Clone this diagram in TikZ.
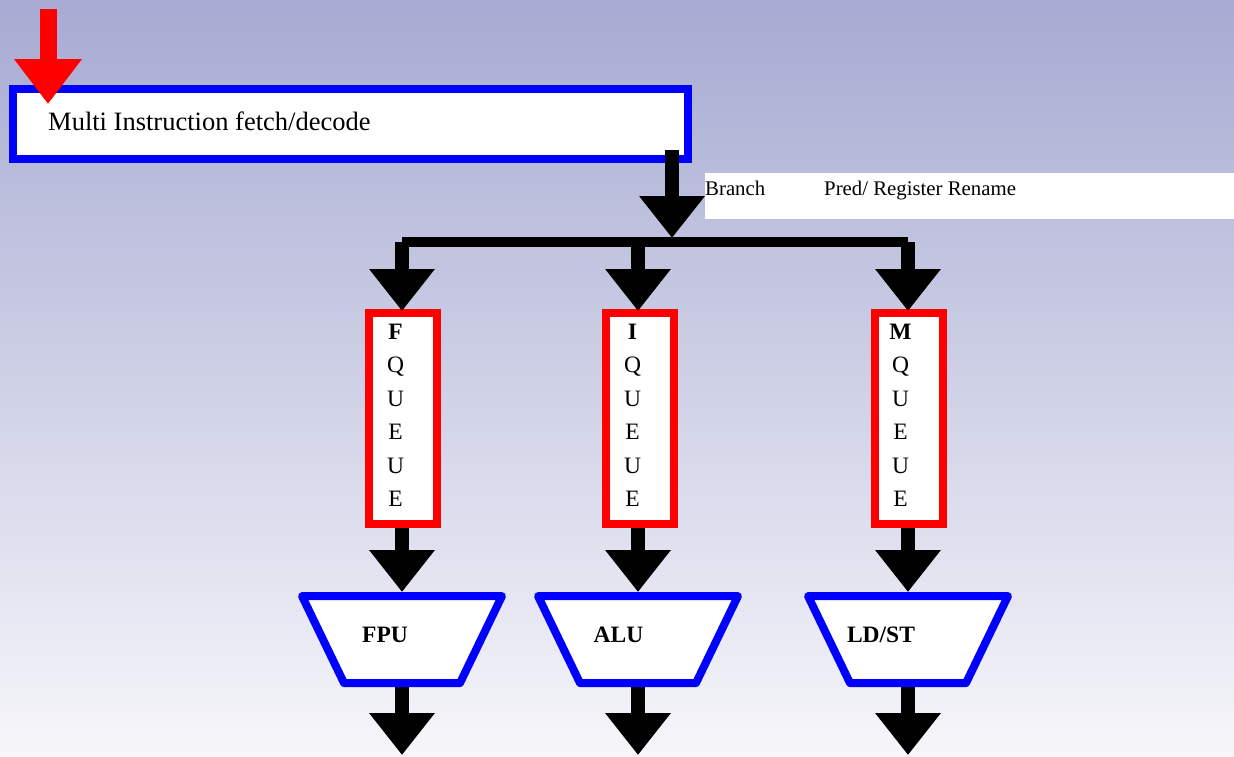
\documentclass[tikz,border=0pt]{standalone}
\usepackage{fontspec}
\setmainfont{Liberation Serif}
\usetikzlibrary{arrows.meta}

\definecolor{bgtop}{RGB}{167,170,210}
\definecolor{bgmid}{RGB}{209,210,232}
\definecolor{bgbot}{RGB}{246,246,250}
\definecolor{pureblue}{RGB}{0,0,255}
\definecolor{purered}{RGB}{255,0,0}

\tikzset{
  flow/.style={draw=black, line width=14pt, -{Triangle[width=63pt,length=42pt]}},
  feed/.style={draw=purered, line width=17pt, -{Triangle[width=65pt,length=45pt]}},
  bus/.style={draw=black, line width=10pt},
  fetchbox/.style={draw=pureblue, fill=white, line width=8pt, minimum width=675pt, minimum height=70pt, inner sep=0pt},
  queuebox/.style={draw=purered, fill=white, line width=8pt, minimum width=68pt, minimum height=211pt, inner sep=0pt},
  unitshape/.style={draw=pureblue, fill=white, line width=8pt, line join=round},
  labelband/.style={fill=white, minimum width=529pt, minimum height=46pt, inner sep=0pt},
  bigtext/.style={inner sep=0pt, font=\fontsize{26.5}{30}\selectfont},
  smalltext/.style={inner sep=0pt, anchor=base west, font=\fontsize{20.8}{24}\selectfont},
  qletter/.style={inner sep=0pt, anchor=base, font=\fontsize{23.5}{26}\selectfont},
  unittext/.style={inner sep=0pt, anchor=base, font=\bfseries\fontsize{23.5}{26}\selectfont}
}

\newcommand{\queuecolumn}[3]{%
  % #1 node name, #2 letter column x, #3 first (bold) letter
  \node[qletter, font=\bfseries\fontsize{23.5}{26}\selectfont] (#1-1) at (#2,339) {#3};
  \node[qletter] (#1-2) at (#2,372.5) {Q};
  \node[qletter] (#1-3) at (#2,406) {U};
  \node[qletter] (#1-4) at (#2,439.5) {E};
  \node[qletter] (#1-5) at (#2,473) {U};
  \node[qletter] (#1-6) at (#2,506.5) {E};
}

\begin{document}
\begin{tikzpicture}[x=1pt,y=-1pt]
\useasboundingbox (0,0) rectangle (1234,756);
\shade[top color=bgtop, middle color=bgmid, bottom color=bgbot] (0,0) rectangle (1234,756);

% fetch/decode stage
\node[fetchbox] (fetch) at (350.5,124) {};
\node[bigtext, anchor=base west] (fetchlabel) at (48,130) {Multi Instruction fetch/decode};

% incoming instruction stream
\coordinate (feedtop) at (48,9);
\coordinate (feedtip) at (47,104);
\draw[feed] (feedtop |- feedtop) -- (feedtop |- feedtip);

% rename band
\node[labelband] (rename) at (969.5,196) {};
\node[smalltext] (branch) at (705,195) {Branch};
\node[smalltext] (predreg) at (824,195) {Pred/ Register Rename};

% issue to the dispatch bus
\coordinate (issue) at (672,150);
\coordinate (busjoin) at (672,238);
\draw[flow] (issue) -- (busjoin);

\coordinate (busL) at (402,242);
\coordinate (busM) at (638,242);
\coordinate (busR) at (908,242);
\draw[bus] (busL) -- (busR);

% instruction queues
\node[queuebox] (fq) at (403,418.5) {};
\node[queuebox] (iq) at (639.5,418.5) {};
\node[queuebox] (mq) at (908.5,418.5) {};
\queuecolumn{fql}{395.5}{F}
\queuecolumn{iql}{632.5}{I}
\queuecolumn{mql}{900.5}{M}

\coordinate (fqin) at (402,311);
\coordinate (iqin) at (638,311);
\coordinate (mqin) at (908,311);
\draw[flow] (busL) -- (fqin);
\draw[flow] (busM) -- (iqin);
\draw[flow] (busR) -- (mqin);

% execution units
\coordinate (fputop) at (402,592);
\coordinate (alutop) at (638,592);
\coordinate (ldsttop) at (908,592);
\coordinate (fpubot) at (402,684);
\coordinate (alubot) at (638,684);
\coordinate (ldstbot) at (908,684);
\coordinate (fpuout) at (402,755);
\coordinate (aluout) at (638,755);
\coordinate (ldstout) at (908,755);

\draw[flow] (fq.south -| fputop) -- (fputop);
\draw[flow] (iq.south -| alutop) -- (alutop);
\draw[flow] (mq.south -| ldsttop) -- (ldsttop);

\draw[flow] (fpubot) -- (fpuout);
\draw[flow] (alubot) -- (aluout);
\draw[flow] (ldstbot) -- (ldstout);

\foreach \dx/\nm in {0/fpushape, 236/alushape, 506/ldstshape} {
  \begin{scope}[xshift=\dx pt]
    \draw[unitshape] (302,596) -- (502,596) -- (460,683) -- (344,683) -- cycle;
  \end{scope}
}
\node[unittext] (fpu) at (385,642) {FPU};
\node[unittext] (alu) at (618.5,642) {ALU};
\node[unittext] (ldst) at (881,642) {LD/ST};
\end{tikzpicture}
\end{document}
